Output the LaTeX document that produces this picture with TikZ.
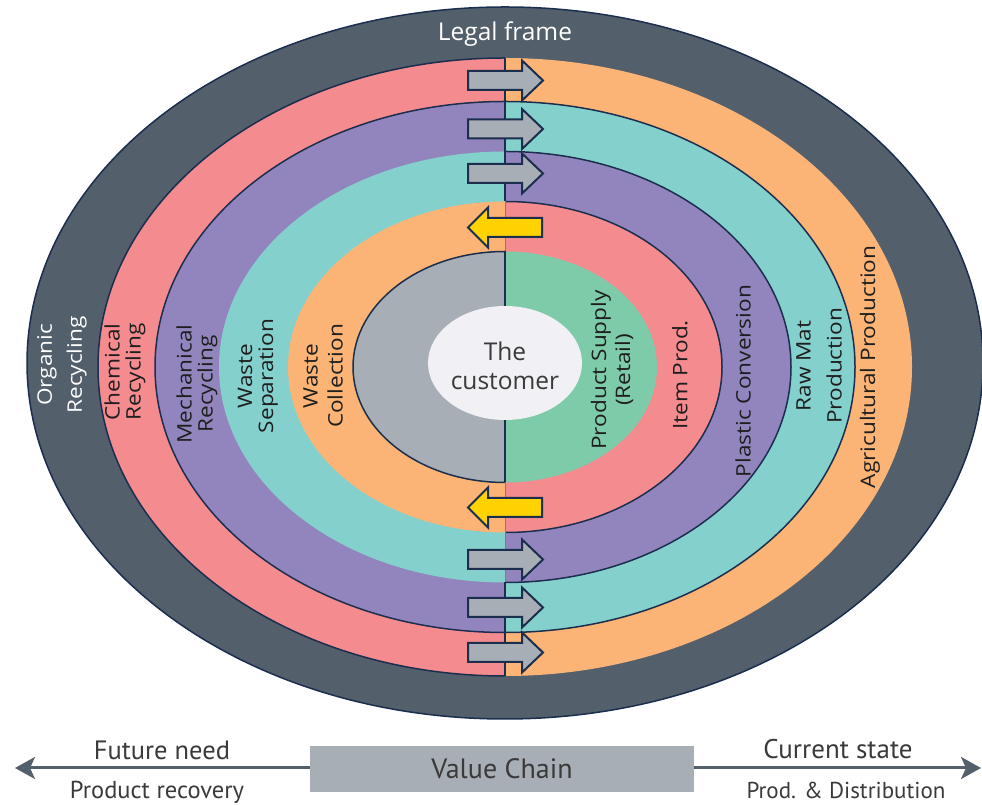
\documentclass[tikz,border=0pt]{standalone}
\usepackage{fontspec}
\setmainfont{Open Sans}
\newfontfamily\ptsans{PT Sans}
\usetikzlibrary{arrows.meta,shapes.geometric}
\definecolor{slate}{HTML}{535F6B}
\definecolor{navy}{HTML}{1C2E4E}
\definecolor{pinkc}{HTML}{F38B8F}
\definecolor{purplec}{HTML}{9285BE}
\definecolor{tealc}{HTML}{84D0CD}
\definecolor{orangec}{HTML}{FBB476}
\definecolor{grayc}{HTML}{A7AEB5}
\definecolor{greenc}{HTML}{7ECBAA}
\definecolor{custc}{HTML}{F0F0F5}
\definecolor{yellowc}{HTML}{FFD200}
\definecolor{textc}{HTML}{1E1E1E}
\definecolor{labelc}{HTML}{3A3A3A}
\definecolor{thinc}{HTML}{8A7A70}
\newcommand\LeftHalf[3]{\fill[#3] (505,{438+#2}) arc[start angle=90,end angle=270,x radius=#1pt,y radius=#2pt] -- cycle;}
\newcommand\RightHalf[3]{\fill[#3] (505,{438-#2}) arc[start angle=-90,end angle=90,x radius=#1pt,y radius=#2pt] -- cycle;}
\newcommand\LeftArc[2]{\draw[ringline] (505,{438+#2}) arc[start angle=90,end angle=270,x radius=#1pt,y radius=#2pt];}
\newcommand\RightArc[2]{\draw[ringline] (505,{438-#2}) arc[start angle=-90,end angle=90,x radius=#1pt,y radius=#2pt];}
\begin{document}
\begin{tikzpicture}[x=1pt,y=1pt,
  ringline/.style={draw=navy, line width=1.5pt},
  ringlabel/.style={rotate=90, xscale=1.13, align=center, text=textc, inner sep=0pt, font=\fontsize{20}{21}\selectfont},
  arrowline/.style={draw=navy, line width=2pt, line join=miter},
  rarrow/.pic={\path[arrowline, fill=grayc] (-37.5,-9.5) -- (16.5,-9.5) -- (16.5,-20) -- (37.5,0) -- (16.5,20) -- (16.5,9.5) -- (-37.5,9.5) -- cycle;},
  larrow/.pic={\path[arrowline, fill=yellowc] (37,-9.5) -- (-17,-9.5) -- (-17,-20) -- (-37,0) -- (-17,20) -- (-17,9.5) -- (37,9.5) -- cycle;},
  bottomtext/.style={anchor=base, text=labelc, inner sep=0pt},
  vcbox/.style={fill=grayc, minimum width=384pt, minimum height=46pt, inner sep=0pt, text=labelc, font=\ptsans\fontsize{28}{30}\selectfont},
  flow/.style={draw=slate, line width=3pt, -{Stealth[length=20pt, width=22pt, inset=5pt]}}
]
\useasboundingbox (0,0) rectangle (982,805);
% outer frame
\filldraw[fill=slate, draw=navy, line width=1.5pt] (505,442) ellipse[x radius=478pt, y radius=356pt];
% rings
\LeftHalf{407}{309}{pinkc}
\RightHalf{407}{309}{orangec}
\LeftHalf{350}{265.5}{purplec}
\RightHalf{350}{265.5}{tealc}
\LeftHalf{286}{215.5}{tealc}
\RightHalf{286}{215.5}{purplec}
\LeftHalf{217}{165.5}{orangec}
\RightHalf{217}{165.5}{pinkc}
\LeftHalf{152}{115.5}{grayc}
\RightHalf{152}{115.5}{greenc}
% outlines
\LeftArc{407}{309}
\LeftArc{350}{265.5}
\LeftArc{152}{115.5}
\RightArc{350}{265.5}
\RightArc{286}{215.5}
\RightArc{217}{165.5}
\draw[navy, line width=2pt] (505,747) -- (505,603.5);
\draw[navy, line width=2pt] (505,222.5) -- (505,129);
\draw[navy, line width=1.5pt] (505,553.5) -- (505,322.5);
\draw[thinc, line width=0.6pt] (505,603.5) -- (505,553.5);
\draw[thinc, line width=0.6pt] (505,322.5) -- (505,222.5);
% customer
\node[ellipse, fill=custc, minimum width=154pt, minimum height=114pt, inner sep=0pt] (cust) at (505,442) {};
\node[align=center, text=labelc, inner sep=0pt, font=\fontsize{24.5}{29}\selectfont] (custtext) at (505,439) {The\\customer};
% arrows
\path (505.5,724.5) pic {rarrow};
\path (505.5,676) pic {rarrow};
\path (505.5,631.5) pic {rarrow};
\path (505,577.5) pic {larrow};
\path (505,297.5) pic {larrow};
\path (505.5,245.5) pic {rarrow};
\path (505.5,197.5) pic {rarrow};
\path (505.5,152.5) pic {rarrow};
% labels
\node[text=white, inner sep=0pt, font=\fontsize{24.5}{26}\selectfont] (legal) at (505,771) {Legal frame};
\node[ringlabel, text=white, font=\fontsize{20}{30}\selectfont] (organic) at (62,440) {Organic\\Recycling};
\node[ringlabel] (chem) at (125,433) {Chemical\\Recycling};
\node[ringlabel] (mech) at (197,421) {Mechanical\\Recycling};
\node[ringlabel] (wsep) at (258,429) {Waste\\Separation};
\node[ringlabel, font=\fontsize{20}{25}\selectfont] (wcol) at (323,429) {Waste\\Collection};
\node[ringlabel, font=\fontsize{20}{24}\selectfont] (supply) at (612,435) {Product Supply\\(Retail)};
\node[ringlabel] (item) at (680,430) {Item Prod.};
\node[ringlabel] (plastic) at (743,424) {Plastic Conversion};
\node[ringlabel, font=\fontsize{20}{31}\selectfont] (rawmat) at (819,439) {Raw Mat\\Production};
\node[ringlabel] (agri) at (870,438) {Agricultural Production};
% value chain
\node[vcbox] (vc) at (502,36) {Value Chain};
\coordinate (lefttip) at (15,37);
\coordinate (righttip) at (981,37);
\draw[flow] (vc.west |- lefttip) -- (lefttip);
\draw[flow] (vc.east |- righttip) -- (righttip);
\node[bottomtext, font=\ptsans\fontsize{26.5}{28}\selectfont] (future) at (162,45) {Future need};
\node[bottomtext, font=\ptsans\fontsize{24.5}{26}\selectfont] (recov) at (157,6) {Product recovery};
\node[bottomtext, font=\ptsans\fontsize{27}{29}\selectfont] (current) at (838,46) {Current state};
\node[bottomtext, font=\ptsans\fontsize{23}{25}\selectfont] (proddist) at (846,6) {Prod. \& Distribution};
\end{tikzpicture}
\end{document}
